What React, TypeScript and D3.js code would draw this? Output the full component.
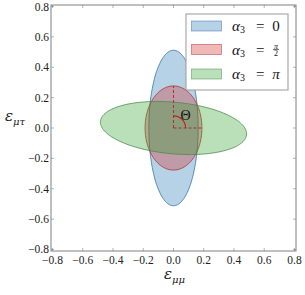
import React from "react";
import * as d3 from "d3";

const ticks = [-0.8, -0.6, -0.4, -0.2, 0.0, 0.2, 0.4, 0.6, 0.8];
const tickLabels = ["−0.8", "−0.6", "−0.4", "−0.2", "0.0", "0.2", "0.4", "0.6", "0.8"];

const seriesNames = ["0", "pi/2", "π"];
const centerX = [0, 0, 0];
const centerY = [0, 0, 0];
const semiX = [0.163, 0.188, 0.485];
const semiY = [0.512, 0.277, 0.17];
const tiltDeg = [0, 0, -5.2];
const fillColors = ["#1f77b4", "#d62728", "#2ca02c"];
const edgeColors = ["#3b6fa8", "#b03030", "#4a8a4a"];

const thetaRadius = 0.08;
const dashTop = 0.277;
const dashRight = 0.188;

const W = 305, H = 295;
const L = 51, R = 296, T = 5, B = 251;

export default function App() {
  const x = d3.scaleLinear().domain([-0.81, 0.81]).range([L, R]);
  const y = d3.scaleLinear().domain([-0.81, 0.81]).range([B, T]);
  const line = d3.line<[number, number]>().x(d => x(d[0])).y(d => y(d[1])).curve(d3.curveLinearClosed);

  const ellipsePath = (i: number) => {
    const pts: [number, number][] = [];
    const a = (tiltDeg[i] * Math.PI) / 180;
    for (let k = 0; k < 200; k++) {
      const t = (k / 200) * 2 * Math.PI;
      const ex = semiX[i] * Math.cos(t);
      const ey = semiY[i] * Math.sin(t);
      pts.push([centerX[i] + ex * Math.cos(a) - ey * Math.sin(a), centerY[i] + ex * Math.sin(a) + ey * Math.cos(a)]);
    }
    return line(pts) as string;
  };

  const rpx = x(thetaRadius) - x(0);
  const arcPath = `M${x(0) + rpx},${y(0)} A${rpx},${rpx} 0 0 0 ${x(0)},${y(0) - rpx}`;

  const font = "'DejaVu Serif', 'Liberation Serif', serif";
  const tfont = "'Liberation Serif', 'DejaVu Serif', serif";
  const frame = "#808080";

  const legendX = 186, legendY = 14, legendW = 102, legendH = 76;
  const rowY = [26, 49.5, 74];

  return (
    <svg width={W} height={H} style={{ position: "absolute", left: 0, top: 0 }}>
      <rect x={0} y={0} width={W} height={H} fill="white" />
      <defs>
        <clipPath id="plot">
          <rect x={L} y={T} width={R - L} height={B - T} />
        </clipPath>
      </defs>
      <g clipPath="url(#plot)">
        {seriesNames.map((s, i) => (
          <path key={s} d={ellipsePath(i)} fill={fillColors[i]} fillOpacity={0.33} stroke={edgeColors[i]} strokeWidth={0.8} />
        ))}
        <line x1={x(0)} y1={y(0)} x2={x(0)} y2={y(dashTop)} stroke="#a83030" strokeWidth={1} strokeDasharray="3,2" />
        <line x1={x(0)} y1={y(0)} x2={x(dashRight)} y2={y(0)} stroke="#a83030" strokeWidth={1} strokeDasharray="3,2" />
        <path d={arcPath} fill="none" stroke="#c02020" strokeWidth={1.2} />
        <text x={x(0.08)} y={y(0.085)} fontFamily={tfont} fontSize={14} textAnchor="middle" dominantBaseline="central" fill="#111">Θ</text>
      </g>
      <rect x={L} y={T} width={R - L} height={B - T} fill="none" stroke={frame} strokeWidth={1} />
      {ticks.map((t, i) => (
        <g key={"t" + i}>
          <line x1={x(t)} x2={x(t)} y1={B} y2={B - 3} stroke={frame} strokeWidth={0.6} />
          <line x1={x(t)} x2={x(t)} y1={T} y2={T + 3} stroke={frame} strokeWidth={0.6} />
          <line x1={L} x2={L + 3} y1={y(t)} y2={y(t)} stroke={frame} strokeWidth={0.6} />
          <line x1={R} x2={R - 3} y1={y(t)} y2={y(t)} stroke={frame} strokeWidth={0.6} />
          <text x={x(t)} y={B + 9} fontFamily={tfont} fontSize={11.5} textAnchor="middle" dominantBaseline="central" fill="#222">{tickLabels[i]}</text>
          <text x={L - 2} y={y(t)} fontFamily={tfont} fontSize={11.5} textAnchor="end" dominantBaseline="central" fill="#222">{tickLabels[i]}</text>
        </g>
      ))}
      <text x={164} y={279} fontFamily={font} fontSize={15} fontStyle="italic" fill="#222">
        ε<tspan fontSize={10} dy={4}>μμ</tspan>
      </text>
      <text x={5} y={121} fontFamily={font} fontSize={15} fontStyle="italic" fill="#222">
        ε<tspan fontSize={10} dy={4}>μτ</tspan>
      </text>

      <rect x={legendX} y={legendY} width={legendW} height={legendH} fill="white" stroke="#999" strokeWidth={1} />
      {seriesNames.map((s, i) => (
        <g key={"lg" + s}>
          <rect x={191.5} y={rowY[i] - 5} width={30} height={10} fill={fillColors[i]} fillOpacity={0.33} stroke={edgeColors[i]} strokeOpacity={0.6} strokeWidth={0.8} />
          <text x={232} y={rowY[i]} fontFamily={tfont} fontSize={15} fontStyle="italic" dominantBaseline="central" fill="#111">
            α<tspan fontSize={10} fontStyle="normal" dy={3}>3</tspan>
          </text>
          <text x={256} y={rowY[i]} fontFamily={tfont} fontSize={15} dominantBaseline="central" fill="#111">=</text>
          {i === 0 && (
            <text x={276} y={rowY[i]} fontFamily={tfont} fontSize={15} dominantBaseline="central" textAnchor="middle" fill="#111">0</text>
          )}
          {i === 2 && (
            <text x={276} y={rowY[i]} fontFamily={tfont} fontSize={15} fontStyle="italic" dominantBaseline="central" textAnchor="middle" fill="#111">π</text>
          )}
          {i === 1 && (
            <g>
              <text x={276} y={rowY[i] - 3.5} fontFamily={tfont} fontSize={8} fontStyle="italic" dominantBaseline="central" textAnchor="middle" fill="#111">π</text>
              <line x1={273} x2={279} y1={rowY[i]} y2={rowY[i]} stroke="#111" strokeWidth={0.6} />
              <text x={276} y={rowY[i] + 4} fontFamily={tfont} fontSize={8} dominantBaseline="central" textAnchor="middle" fill="#111">2</text>
            </g>
          )}
        </g>
      ))}
    </svg>
  );
}
